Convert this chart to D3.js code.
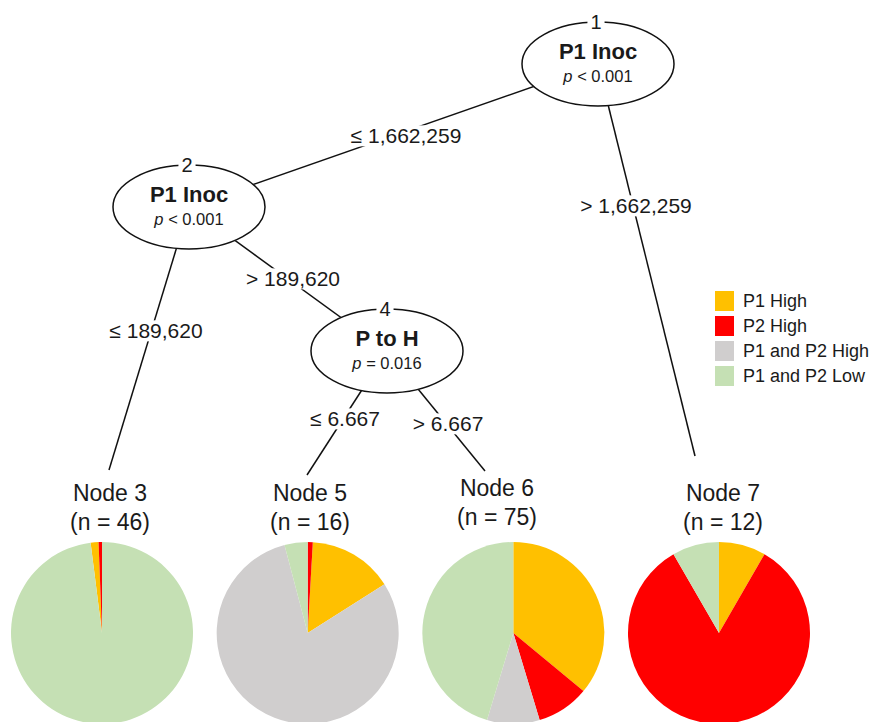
<!DOCTYPE html>
<html>
<head>
<meta charset="utf-8">
<script src="https://cdn.jsdelivr.net/npm/d3@7"></script>
<style>
  html, body { margin: 0; padding: 0; background: #fff; }
  svg { display: block; font-family: "Liberation Sans", Arial, sans-serif; }
</style>
</head>
<body>
<svg id="chart" width="875" height="722"></svg>
<script>
// ---- data ----
const categories = ["P1 High", "P2 High", "P1 and P2 High", "P1 and P2 Low"];
const categoryColors = ["#FFC000", "#FF0000", "#D0CECE", "#C5E0B4"];

const innerIds = [1, 2, 4];
const innerVariables = ["P1 Inoc", "P1 Inoc", "P to H"];
const innerPSign = ["<", "<", "="];
const innerPValues = ["0.001", "0.001", "0.016"];

const leafIds = [3, 5, 6, 7];
const leafNames = ["Node 3", "Node 5", "Node 6", "Node 7"];
const leafCounts = [46, 16, 75, 12];
// class shares per leaf, in legend order (P1 High, P2 High, P1&P2 High, P1&P2 Low)
const node3Shares = [1.4, 0.6, 0, 98.0];
const node5Shares = [15.1, 0.9, 79.9, 4.1];
const node6Shares = [27, 7, 7, 34];
const node7Shares = [1, 10, 0, 1];
// clockwise slice order from 12 o'clock (indices into categories)
const node3Order = [3, 0, 1, 2];
const node5Order = [1, 0, 2, 3];
const node6Order = [0, 1, 2, 3];
const node7Order = [0, 1, 2, 3];

const edgeFrom = [1, 1, 2, 2, 4, 4];
const edgeTo = [2, 7, 3, 4, 5, 6];
const edgeLabels = ["\u2264 1,662,259", "> 1,662,259", "\u2264 189,620", "> 189,620", "\u2264 6.667", "> 6.667"];

// ---- layout (positions / styles) ----
const W = 875, H = 722;
const innerPos = { 1: [598, 64], 2: [189, 207], 4: [387, 351] };
const ellRx = 76, ellRy = 42;
const leafEdgeEnd = { 3: [109, 470], 5: [307, 475], 6: [485, 471], 7: [695, 456] };
const leafLabelPos = { 3: [110, 501], 5: [310, 501], 6: [497, 496], 7: [723, 501] };
const edgeLabelPos = [[406, 136], [636, 206], [156, 331], [293, 279], [345, 419], [448, 424]];
const pieCy = 633, pieR = 91;

const svg = d3.select("#chart");
const pieX = d3.scalePoint().domain(leafNames).range([102, 719]);

function nodePoint(id) {
  return innerPos[id] ? innerPos[id] : leafEdgeEnd[id];
}

// ---- edges ----
const gEdges = svg.append("g");
edgeFrom.forEach((f, i) => {
  const a = nodePoint(f), b = nodePoint(edgeTo[i]);
  gEdges.append("line")
    .attr("x1", a[0]).attr("y1", a[1]).attr("x2", b[0]).attr("y2", b[1])
    .attr("stroke", "#111").attr("stroke-width", 1.5);
});

// edge labels with white background
const gEl = svg.append("g");
edgeLabels.forEach((lab, i) => {
  const g = gEl.append("g").attr("transform", `translate(${edgeLabelPos[i][0]},${edgeLabelPos[i][1]})`);
  const t = g.append("text").attr("text-anchor", "middle").attr("dy", "0.35em")
    .attr("font-size", 21).attr("fill", "#1a1a1a").text(lab);
  const bb = t.node().getBBox();
  g.insert("rect", "text").attr("x", bb.x - 3).attr("y", bb.y + 1).attr("width", bb.width + 6)
    .attr("height", bb.height - 2).attr("fill", "#fff");
});

// ---- inner nodes ----
const gInner = svg.append("g");
innerIds.forEach((id, i) => {
  const [cx, cy] = innerPos[id];
  const g = gInner.append("g").attr("transform", `translate(${cx},${cy})`);
  g.append("ellipse").attr("rx", ellRx).attr("ry", ellRy)
    .attr("fill", "#fff").attr("stroke", "#111").attr("stroke-width", 1.5);
  g.append("text").attr("text-anchor", "middle").attr("y", -5)
    .attr("font-size", 22).attr("font-weight", "bold").attr("fill", "#1a1a1a")
    .text(innerVariables[i]);
  const pt = g.append("text").attr("text-anchor", "middle").attr("y", 18)
    .attr("font-size", 16.5).attr("fill", "#1a1a1a");
  pt.append("tspan").attr("font-style", "italic").text("p");
  pt.append("tspan").text(" " + innerPSign[i] + " " + innerPValues[i]);
  // node id on the top of the ellipse
  const nt = g.append("text").attr("text-anchor", "middle").attr("x", -2).attr("y", -ellRy)
    .attr("dy", "0.35em").attr("font-size", 20).attr("fill", "#1a1a1a").text(id);
  const bb = nt.node().getBBox();
  g.insert("rect", "text").attr("x", bb.x - 3).attr("y", bb.y + 2).attr("width", bb.width + 6)
    .attr("height", bb.height - 4).attr("fill", "#fff");
});

// ---- leaves ----
const leafShares = [node3Shares, node5Shares, node6Shares, node7Shares];
const leafOrders = [node3Order, node5Order, node6Order, node7Order];
const arc = d3.arc().innerRadius(0).outerRadius(pieR);
const gLeaves = svg.append("g");
leafIds.forEach((id, i) => {
  const [lx, ly] = leafLabelPos[id];
  gLeaves.append("text").attr("x", lx).attr("y", ly).attr("text-anchor", "middle")
    .attr("font-size", 23).attr("fill", "#1a1a1a").text(leafNames[i]);
  gLeaves.append("text").attr("x", lx).attr("y", ly + 29).attr("text-anchor", "middle")
    .attr("font-size", 23).attr("fill", "#1a1a1a").text(`(n = ${leafCounts[i]})`);

  const order = leafOrders[i];
  const items = categories.map((c, k) => ({ k, v: leafShares[i][k] }));
  const pie = d3.pie().value(d => d.v).sort((a, b) => order.indexOf(a.k) - order.indexOf(b.k));
  const g = gLeaves.append("g").attr("transform", `translate(${pieX(leafNames[i])},${pieCy})`);
  g.selectAll("path").data(pie(items).filter(d => d.data.v > 0)).join("path")
    .attr("d", arc).attr("fill", d => categoryColors[d.data.k]);
});

// ---- legend ----
const legend = svg.append("g").attr("transform", "translate(715,291)");
const legY = d3.scaleBand().domain(categories).range([0, 100]).paddingInner(0);
categories.forEach((c, k) => {
  legend.append("rect").attr("x", 0).attr("y", legY(c)).attr("width", 19).attr("height", 20)
    .attr("fill", categoryColors[k]);
  legend.append("text").attr("x", 28).attr("y", legY(c) + 10).attr("dy", "0.35em")
    .attr("font-size", 18).attr("fill", "#1a1a1a").text(c);
});
</script>
</body>
</html>
